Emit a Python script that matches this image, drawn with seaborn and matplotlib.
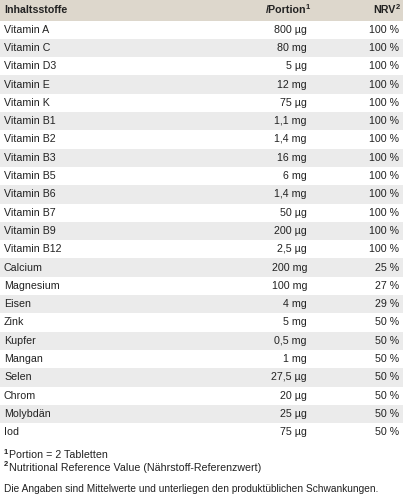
import matplotlib
matplotlib.use("Agg")
import matplotlib.pyplot as plt
import seaborn as sns

nutrients = ["Vitamin A", "Vitamin C", "Vitamin D3", "Vitamin E", "Vitamin K", "Vitamin B1",
             "Vitamin B2", "Vitamin B3", "Vitamin B5", "Vitamin B6", "Vitamin B7", "Vitamin B9",
             "Vitamin B12", "Calcium", "Magnesium", "Eisen", "Zink", "Kupfer", "Mangan",
             "Selen", "Chrom", "Molybdän", "Iod"]
portion = ["800 µg", "80 mg", "5 µg", "12 mg", "75 µg", "1,1 mg", "1,4 mg", "16 mg", "6 mg",
           "1,4 mg", "50 µg", "200 µg", "2,5 µg", "200 mg", "100 mg", "4 mg", "5 mg", "0,5 mg",
           "1 mg", "27,5 µg", "20 µg", "25 µg", "75 µg"]
nrv = ["100 %"] * 13 + ["25 %", "27 %", "29 %", "50 %", "50 %", "50 %", "50 %", "50 %", "50 %", "50 %"]

sns.set_theme(style="white")
plt.rcParams['font.family'] = ['Liberation Sans', 'DejaVu Sans']

W, H = 403, 500
fig = plt.figure(figsize=(W / 100, H / 100), dpi=100)
ax = fig.add_axes([0, 0, 1, 1])
ax.set_xlim(0, W)
ax.set_ylim(H, 0)
ax.axis("off")

fs = 7.7
txt = "#222222"
header_h = 20.5
row_h = 18.3


def sup_text(x, y, sup, main, ha="left", bold=False):
    # main text with a small bold superscript number
    w = "bold" if bold else "normal"
    if ha == "left":
        ax.text(x, y - 3, sup, fontsize=5.5, weight="bold", va="center", color=txt)
        ax.text(x + 5, y, main, fontsize=fs, weight=w, va="center", color=txt)
    else:
        ax.text(x, y - 3, sup, fontsize=5.5, weight="bold", va="center", ha="right", color=txt)
        ax.text(x - 4, y, main, fontsize=fs, weight=w, va="center", ha="right", color=txt)


# header
ax.axhspan(0, header_h, color="#ddd7cc", lw=0)
ax.text(4, header_h / 2, "Inhaltsstoffe", fontsize=fs, weight="bold", va="center", color=txt)
sup_text(310, header_h / 2, "1", "/Portion", ha="right", bold=True)
sup_text(400, header_h / 2, "2", "NRV", ha="right", bold=True)

for i, (n, p, r) in enumerate(zip(nutrients, portion, nrv)):
    top = header_h + i * row_h
    if i % 2 == 1:
        ax.axhspan(top, top + row_h, color="#ebebeb", lw=0)
    y = top + row_h / 2
    ax.text(4, y, n, fontsize=fs, va="center", color=txt)
    ax.text(307, y, p, fontsize=fs, va="center", ha="right", color=txt)
    ax.text(399, y, r, fontsize=fs, va="center", ha="right", color=txt)

sup_text(4, 455, "1", "Portion = 2 Tabletten")
sup_text(4, 468, "2", "Nutritional Reference Value (Nährstoff-Referenzwert)")
ax.text(4, 489, "Die Angaben sind Mittelwerte und unterliegen den produktüblichen Schwankungen.",
        fontsize=7.3, va="center", color=txt)

fig.savefig("out.png", dpi=100)
